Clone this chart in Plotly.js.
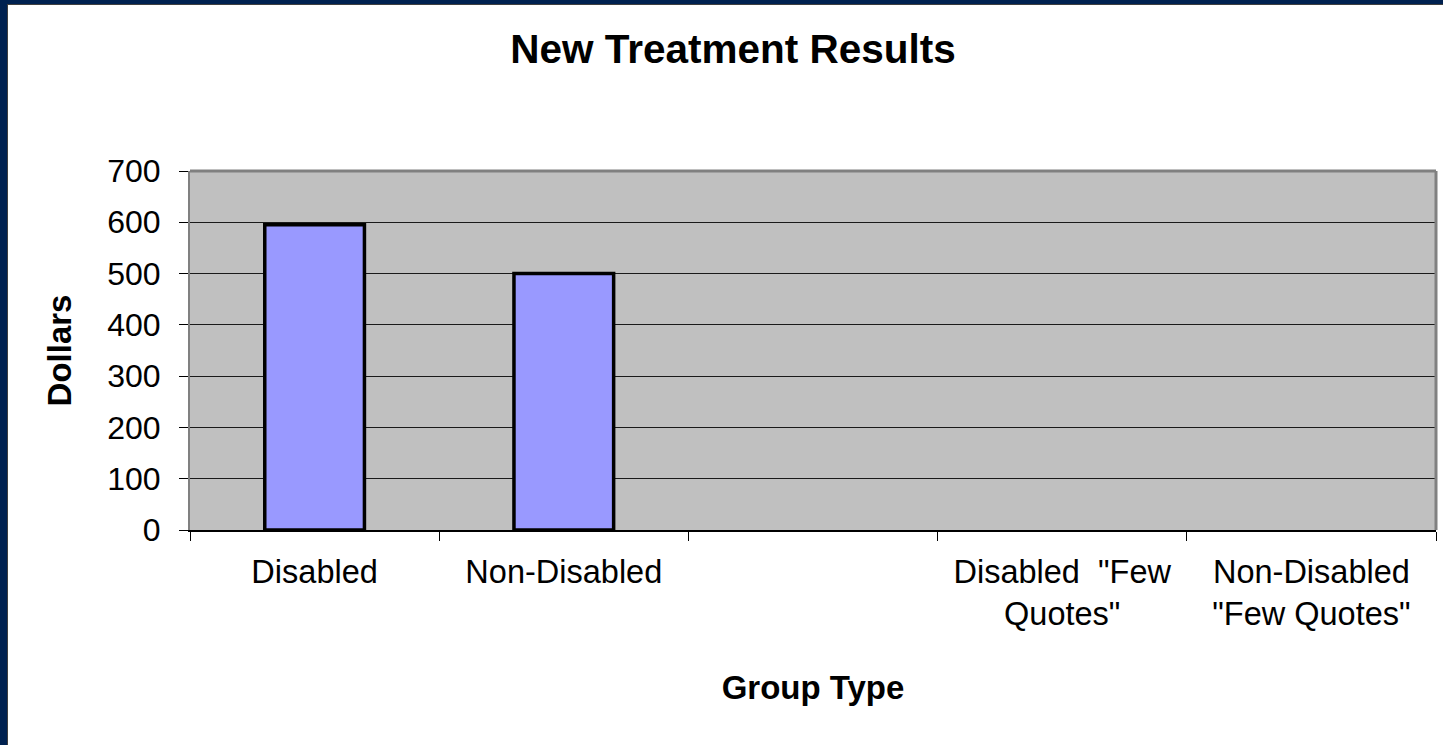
<!DOCTYPE html>
<html>
<head>
<meta charset="utf-8">
<script src="https://cdn.plot.ly/plotly-3.0.1.min.js"></script>
<style>
  html, body { margin: 0; padding: 0; background: #ffffff; }
  #frame { position: absolute; left: 0; top: 0; width: 1443px; height: 745px; background: #002150; }
  #chart { position: absolute; left: 7px; top: 4px; width: 1436px; height: 741px; background: #ffffff;
           box-shadow: inset 1px 1px 0 #404040; }
</style>
</head>
<body>
<div id="frame"></div>
<div id="chart"></div>
<script>
const categories = ['Disabled', 'Non-Disabled', ' ', 'Disabled \u00a0"Few<br>Quotes"', 'Non-Disabled<br>"Few Quotes"'];
const dollars = [595, 500, null, null, null];
const yTicks = [0, 100, 200, 300, 400, 500, 600, 700];

const FONT = '"Liberation Sans", Arial, sans-serif';

const trace = {
  type: 'bar',
  x: categories,
  y: dollars,
  width: 0.4,
  marker: { color: '#9999FF', line: { color: '#000000', width: 3.5 } },
  hoverinfo: 'x+y'
};

const layout = {
  width: 1436,
  height: 741,
  margin: { l: 183, r: 7, t: 167, b: 215, autoexpand: false },
  paper_bgcolor: 'rgba(0,0,0,0)',
  plot_bgcolor: '#C0C0C0',
  showlegend: false,
  font: { family: FONT, color: '#000000', size: 32 },
  title: {
    text: '<b>New Treatment Results</b>',
    font: { family: FONT, size: 40.5, color: '#000000' },
    x: 0.5056, xanchor: 'center', xref: 'container',
    y: 0.939, yanchor: 'middle', yref: 'container'
  },
  xaxis: {
    type: 'category',
    categoryorder: 'array',
    categoryarray: categories,
    range: [-0.5, 4.5],
    tickson: 'boundaries',
    ticks: 'outside',
    ticklen: 9,
    tickwidth: 1,
    tickcolor: '#000000',
    showgrid: false,
    showline: true,
    linecolor: '#000000',
    linewidth: 2,
    tickfont: { family: FONT, size: 32.5, color: '#000000' },
    ticklabelstandoff: 12,
    automargin: false,
    title: { text: '<b>Group Type</b>', font: { family: FONT, size: 33, color: '#000000' }, standoff: 45 }
  },
  yaxis: {
    range: [0, 700],
    tickvals: yTicks,
    ticktext: yTicks.map(String),
    ticks: 'outside',
    ticklen: 9,
    tickwidth: 1,
    tickcolor: '#000000',
    showgrid: true,
    gridcolor: '#1a1a1a',
    gridwidth: 1,
    zeroline: false,
    showline: true,
    linecolor: '#808080',
    linewidth: 2,
    tickfont: { family: FONT, size: 32, color: '#000000' },
    ticklabelstandoff: 12,
    automargin: false,
    title: { text: '<b>Dollars</b>', font: { family: FONT, size: 33, color: '#000000' }, standoff: 26 }
  },
  shapes: [
    { type: 'line', xref: 'paper', yref: 'paper', x0: 0, x1: 1, y0: 1, y1: 1, line: { color: '#808080', width: 3 } },
    { type: 'line', xref: 'paper', yref: 'paper', x0: 1, x1: 1, y0: 0, y1: 1, line: { color: '#808080', width: 3 } }
  ],
  bargap: 0.6
};

Plotly.newPlot('chart', [trace], layout, { displayModeBar: false, staticPlot: true });
</script>
</body>
</html>
